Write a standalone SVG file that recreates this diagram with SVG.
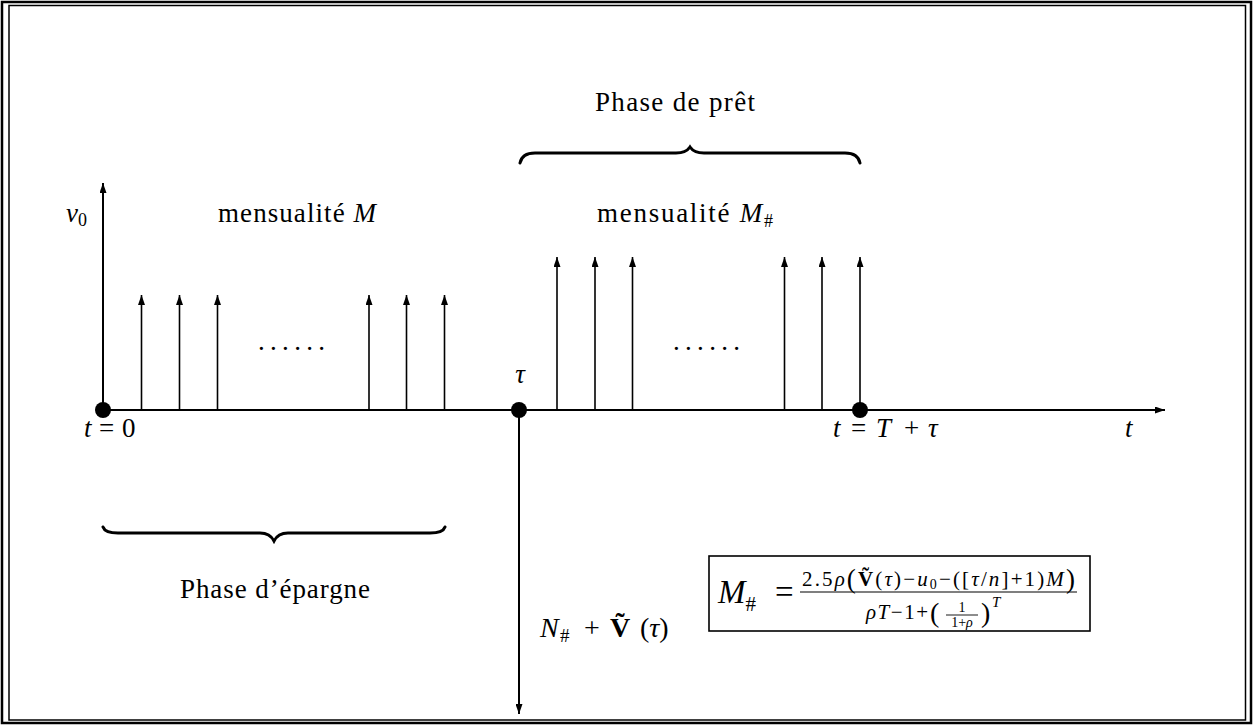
<svg xmlns="http://www.w3.org/2000/svg" width="1260" height="725" viewBox="0 0 1260 725">
<defs>
<marker id="ah" viewBox="0 0 10 7" refX="10" refY="3.5" markerWidth="10" markerHeight="7" markerUnits="userSpaceOnUse" orient="auto">
<path d="M0,0 L10,3.5 L0,7 Z" fill="#000"/>
</marker>
</defs>
<style>
text { font-family: "Liberation Serif", "DejaVu Serif", serif; fill: #000; }
.t { font-size: 27px; }
.m { font-style: italic; }
.ax { stroke: #000; stroke-width: 2; fill: none; }
.sp { stroke: #000; stroke-width: 1.6; fill: none; }
.br { stroke: #000; stroke-width: 3; fill: none; stroke-linecap: round; }
.dot { fill: #000; }
</style>
<rect x="0" y="0" width="1260" height="725" fill="#fff"/>
<g id="frame">
<rect x="2" y="2" width="1249" height="721" fill="none" stroke="#000" stroke-width="2.5"/>
<rect x="9" y="5.5" width="1236.5" height="714.5" fill="none" stroke="#000" stroke-width="1.5"/>
</g>
<g id="connectors">
<line class="ax" x1="103" y1="410" x2="1165" y2="410" marker-end="url(#ah)"/>
<line class="ax" x1="103" y1="410" x2="103" y2="183" marker-end="url(#ah)"/>
<line class="ax" x1="519" y1="410" x2="519" y2="714" marker-end="url(#ah)"/>
<line class="sp" x1="141.5" y1="410" x2="141.5" y2="295" marker-end="url(#ah)"/>
<line class="sp" x1="179.5" y1="410" x2="179.5" y2="295" marker-end="url(#ah)"/>
<line class="sp" x1="217.5" y1="410" x2="217.5" y2="295" marker-end="url(#ah)"/>
<line class="sp" x1="369" y1="410" x2="369" y2="295" marker-end="url(#ah)"/>
<line class="sp" x1="406.5" y1="410" x2="406.5" y2="295" marker-end="url(#ah)"/>
<line class="sp" x1="444.5" y1="410" x2="444.5" y2="295" marker-end="url(#ah)"/>
<line class="sp" x1="557" y1="410" x2="557" y2="257" marker-end="url(#ah)"/>
<line class="sp" x1="595" y1="410" x2="595" y2="257" marker-end="url(#ah)"/>
<line class="sp" x1="632.5" y1="410" x2="632.5" y2="257" marker-end="url(#ah)"/>
<line class="sp" x1="784.5" y1="410" x2="784.5" y2="257" marker-end="url(#ah)"/>
<line class="sp" x1="822" y1="410" x2="822" y2="257" marker-end="url(#ah)"/>
<line class="sp" x1="860" y1="410" x2="860" y2="257" marker-end="url(#ah)"/>
</g>
<g id="node-origin">
<circle class="dot" cx="103" cy="410" r="8"/>
<text class="t" y="437"><tspan class="m" x="84">t</tspan><tspan x="99">=</tspan><tspan x="122">0</tspan></text>
</g>
<g id="node-tau">
<circle class="dot" cx="519" cy="410" r="8"/>
<text class="t m" x="520" y="383" text-anchor="middle">τ</text>
</g>
<g id="node-end">
<circle class="dot" cx="860" cy="410" r="8"/>
<text class="t" y="437"><tspan class="m" x="833">t</tspan><tspan x="851">=</tspan><tspan class="m" x="876">T</tspan><tspan x="904">+</tspan><tspan class="m" x="928">τ</tspan></text>
</g>
<g id="label-t">
<text class="t m" x="1125" y="437">t</text>
</g>
<g id="label-v0">
<text class="t" x="66" y="222"><tspan class="m">v</tspan><tspan font-size="18" dy="4">0</tspan></text>
</g>
<g id="label-mensualite-M">
<text class="t" x="218" y="222" textLength="158">mensualité <tspan class="m">M</tspan></text>
</g>
<g id="label-mensualite-Mh">
<text class="t" x="597" y="222" textLength="176">mensualité <tspan class="m">M</tspan><tspan font-size="18" dy="5">#</tspan></text>
</g>
<g id="dots-left">
<text class="t" x="258" y="350" letter-spacing="5.3">......</text>
</g>
<g id="dots-right">
<text class="t" x="673" y="350" letter-spacing="5.3">......</text>
</g>
<g id="brace-pret">
<path class="br" d="M520,163 Q522,153 535,153 L676,153 Q686,153 690,147 Q694,153 704,153 L845,153 Q858,153 860,163"/>
<text class="t" x="595" y="111" textLength="160">Phase de prêt</text>
</g>
<g id="brace-epargne">
<path class="br" d="M103,527 Q105,533 118,533 L260,533 Q270,533 274,541 Q278,533 288,533 L430,533 Q443,533 445,527"/>
<text class="t" x="180" y="598" textLength="190">Phase d’épargne</text>
</g>
<g id="label-N">
<text y="637" font-size="28"><tspan class="m" x="540">N</tspan><tspan font-size="19" x="560" dy="5">#</tspan><tspan x="584" dy="-5">+</tspan><tspan font-weight="bold" x="610">V&#x303;</tspan><tspan x="640">(</tspan><tspan class="m">τ</tspan><tspan>)</tspan></text>
</g>
<g id="formula">
<rect x="709" y="556" width="381" height="75" fill="none" stroke="#000" stroke-width="1.6"/>
<text x="718" y="603" font-size="33"><tspan class="m">M</tspan><tspan font-size="21" dy="8">#</tspan><tspan dy="-8" x="775">=</tspan></text>
<line x1="800" y1="592" x2="1077" y2="592" stroke="#000" stroke-width="1.2"/>
<text x="802" y="586" font-size="21" textLength="273">2.5<tspan class="m">ρ</tspan><tspan font-size="27" dy="2">(</tspan><tspan dy="-2" font-weight="bold">V&#x303;</tspan>(<tspan class="m">τ</tspan>)−<tspan class="m">u</tspan><tspan font-size="14" dy="3">0</tspan><tspan dy="-3">−([</tspan><tspan class="m">τ</tspan>/<tspan class="m">n</tspan>]+1)<tspan class="m">M</tspan><tspan font-size="27" dy="2">)</tspan></text>
<text x="866" y="619" font-size="21" textLength="62"><tspan class="m">ρT</tspan>−1+</text>
<text x="930" y="622" font-size="28">(</text>
<text x="962" y="612" font-size="14" text-anchor="middle">1</text>
<line x1="946" y1="615" x2="978" y2="615" stroke="#000" stroke-width="0.9"/>
<text x="962" y="627" font-size="14" text-anchor="middle">1+<tspan class="m">ρ</tspan></text>
<text x="981" y="622" font-size="28">)</text>
<text x="992" y="607" font-size="15" class="m">T</text>
</g>
</svg>
